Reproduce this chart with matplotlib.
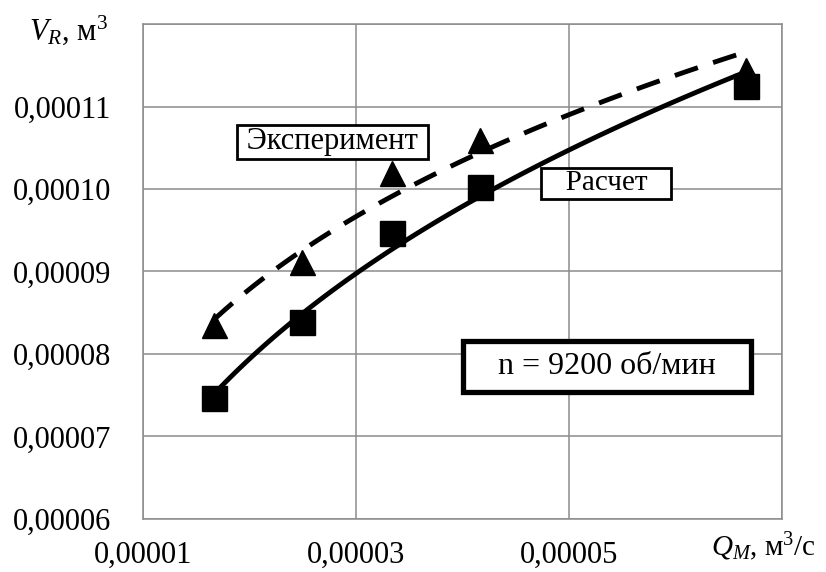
import matplotlib
matplotlib.use("Agg")
import matplotlib.pyplot as plt
import numpy as np

plt.rcParams['font.family'] = ['Liberation Serif', 'DejaVu Serif']
plt.rcParams['mathtext.fontset'] = 'custom'
plt.rcParams['mathtext.rm'] = 'Liberation Serif'
plt.rcParams['mathtext.it'] = 'Liberation Serif:italic'

# данные
q = [0.0000167, 0.0000249, 0.0000334, 0.0000416, 0.0000666]
v_calc = [0.0000747, 0.0000839, 0.0000947, 0.0001002, 0.0001125]
v_exp = [0.0000835, 0.0000912, 0.0001019, 0.0001059, 0.0001144]
x_ticks = [0.00001, 0.00003, 0.00005]
y_ticks = [0.00006, 0.00007, 0.00008, 0.00009, 0.00010, 0.00011]


def fmt(v):
    return ("%.5f" % v).replace('.', ',')


def power_fit(x, y):
    b, la = np.polyfit(np.log(x), np.log(y), 1)
    xx = np.linspace(min(x), max(x), 100)
    return xx, np.exp(la) * xx ** b


fig = plt.figure(figsize=(8.26, 5.72), dpi=100)
ax = fig.add_axes([0.1731, 0.0927, 0.7736, 0.8653])

xx, yy = power_fit(q, v_calc)
ax.plot(xx, yy, color='black', lw=3.5, zorder=3)
xx, yy = power_fit(q, v_exp)
ax.plot(xx, yy, color='black', lw=3.5, ls=(0, (5, 3.3)), zorder=3)

ax.plot(q, v_calc, 's', color='black', ms=18, zorder=4)
ax.plot(q, v_exp, '^', color='black', ms=18, zorder=4)

ax.set_xlim(0.00001, 0.00007)
ax.set_ylim(0.00006, 0.00012)
ax.set_xticks([0.00001, 0.00003, 0.00005, 0.00007])
ax.set_xticklabels([fmt(v) for v in x_ticks] + [''])
ax.set_yticks(y_ticks + [0.00012])
ax.set_yticklabels([fmt(v) for v in y_ticks] + [''])
ax.tick_params(length=0, labelsize=22)
ax.tick_params(axis='y', pad=23)
ax.tick_params(axis='x', pad=16)
ax.grid(True, color='#8c8c8c', lw=1.1)
for s in ax.spines.values():
    s.set_color('#8c8c8c')
    s.set_linewidth(1.1)

fig.text(0.035, 0.948, '$V_R$, м$^3$', fontsize=22, ha='left', va='center')
fig.text(0.861, 0.045, '$Q_M$, м$^3$/с', fontsize=21, ha='left', va='center')

box = dict(boxstyle='square,pad=0.08', fc='white', ec='black', lw=2)
ax.text(0.0000278, 0.0001057, ' Эксперимент ', fontsize=22, ha='center', va='center', bbox=box, zorder=5)
ax.text(0.0000535, 0.0001007, '   Расчет   ', fontsize=21, ha='center', va='center', bbox=box, zorder=5)
box2 = dict(boxstyle='square,pad=0.35', fc='white', ec='black', lw=3.8)
ax.text(0.0000536, 0.0000785, '   n = 9200 об/мин   ', fontsize=23, ha='center', va='center', bbox=box2, zorder=5)

fig.savefig('out.png', dpi=100)
